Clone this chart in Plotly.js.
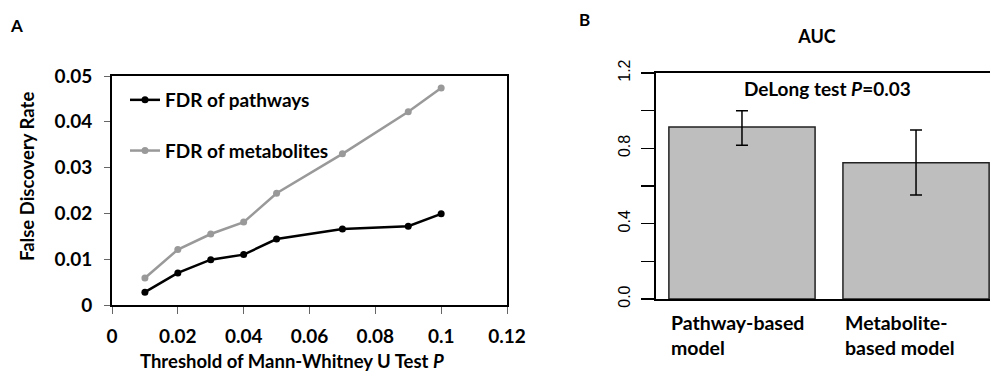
<!DOCTYPE html>
<html>
<head>
<meta charset="utf-8">
<script src="https://cdn.plot.ly/plotly-3.0.1.min.js"></script>
<style>html,body{margin:0;padding:0;background:#fff;}#chart{width:990px;height:373px;}</style>
</head>
<body>
<div id="chart"></div>
<script>
// ---- Data: panel A ----
const thresholds = [0.01, 0.02, 0.03, 0.04, 0.05, 0.07, 0.09, 0.10];
const fdrPathways = [0.0028, 0.0070, 0.0099, 0.0110, 0.0144, 0.0166, 0.0172, 0.0199];
const fdrMetabolites = [0.0059, 0.0121, 0.0155, 0.0181, 0.0244, 0.0330, 0.0422, 0.0474];
const seriesNames = ["FDR of pathways", "FDR of metabolites"];

// ---- Data: panel B ----
const models = ["Pathway-based<br>model", "Metabolite-<br>based model"];
const aucValues = [0.913, 0.724];
const ciUpper = [1.00, 0.897];
const ciLower = [0.816, 0.552];

const BOLD = "Lato, 'Open Sans', sans-serif";
const barWidth = 0.84;

const traces = [
  {
    x: thresholds, y: fdrPathways, name: "<b>" + seriesNames[0] + "</b>", type: "scatter", mode: "lines+markers",
    line: {color: "#000000", width: 2.5}, marker: {color: "#000000", size: 7},
    xaxis: "x", yaxis: "y", legendgroup: "g1"
  },
  {
    x: thresholds, y: fdrMetabolites, name: "<b>" + seriesNames[1] + "</b>", type: "scatter", mode: "lines+markers",
    line: {color: "#999999", width: 2.5}, marker: {color: "#999999", size: 7},
    xaxis: "x", yaxis: "y", legendgroup: "g2"
  },
  {
    x: models, y: aucValues, type: "bar", width: barWidth, showlegend: false,
    marker: {color: "#bebebe", line: {color: "#222222", width: 1.5}},
    error_y: {
      type: "data", symmetric: false,
      array: aucValues.map((v, i) => ciUpper[i] - v),
      arrayminus: aucValues.map((v, i) => v - ciLower[i]),
      color: "#000000", thickness: 1.5, width: 6
    },
    xaxis: "x2", yaxis: "y2", hoverinfo: "y"
  }
];

const annotations = [
  {text: "<b>A</b>", xref: "paper", yref: "paper", x: 16/990, y: 1 - 25/373, xanchor: "center", yanchor: "middle",
   showarrow: false, font: {family: BOLD, size: 17, color: "#000"}},
  {text: "<b>B</b>", xref: "paper", yref: "paper", x: 584/990, y: 1 - 19/373, xanchor: "center", yanchor: "middle",
   showarrow: false, font: {family: BOLD, size: 17, color: "#000"}},
  {text: "<b>False Discovery Rate</b>", xref: "paper", yref: "paper", x: 27/990, y: 1 - 177/373,
   xanchor: "center", yanchor: "middle",
   textangle: -90, showarrow: false, font: {family: BOLD, size: 18.5, color: "#000"}},
  {text: "<b>Threshold of Mann-Whitney U Test <i>P</i></b>", xref: "paper", yref: "paper",
   x: 292/990, y: 0, xanchor: "center", yanchor: "bottom", borderpad: 0,
   showarrow: false, font: {family: BOLD, size: 18.5, color: "#000"}},
  {text: "<b>DeLong test <i>P</i>=0.03</b>", xref: "paper", yref: "paper",
   x: 827/990, y: 1 - 89/373, xanchor: "center", yanchor: "middle",
   showarrow: false, font: {family: BOLD, size: 19, color: "#000"}}
];
models.forEach((m, i) => {
  annotations.push({
    text: "<b>" + m + "</b>", xref: "x2", yref: "paper", x: i - barWidth / 2, y: 1 - 335/373,
    xanchor: "left", yanchor: "middle", align: "left", showarrow: false,
    font: {family: BOLD, size: 19.5, color: "#000"}
  });
});

const layout = {
  width: 990, height: 373,
  margin: {l: 0, r: 0, t: 0, b: 0},
  paper_bgcolor: "#ffffff", plot_bgcolor: "#ffffff",
  font: {family: BOLD, color: "#000"},
  title: {text: "<b>AUC</b>", x: 817/990, xanchor: "center", y: 1 - 37/373, yanchor: "middle",
          font: {family: BOLD, size: 18, color: "#000"}},
  showlegend: true,
  legend: {
    x: 125/990, y: 1 - 81/373, xanchor: "left", yanchor: "top",
    bgcolor: "rgba(0,0,0,0)", traceorder: "grouped", tracegroupgap: 23,
    font: {family: BOLD, size: 19, color: "#000"}, itemwidth: 30
  },
  xaxis: {
    domain: [112/990, 507/990], range: [0, 0.12], dtick: 0.02, tick0: 0,
    showgrid: false, zeroline: false, showline: true, mirror: true, linecolor: "#000", linewidth: 2,
    ticks: "outside", ticklen: 7, tickcolor: "#666", tickwidth: 1, ticklabelstandoff: 6,
    tickfont: {family: BOLD, size: 19, color: "#000"}, tickprefix: "<b>", ticksuffix: "</b>",
    anchor: "y"
  },
  yaxis: {
    domain: [68/373, 297/373], range: [0, 0.05], dtick: 0.01, tick0: 0,
    showgrid: false, zeroline: false, showline: true, mirror: true, linecolor: "#000", linewidth: 2,
    ticks: "outside", ticklen: 6, tickcolor: "#666", tickwidth: 1, ticklabelstandoff: 8,
    tickfont: {family: BOLD, size: 19, color: "#000"}, tickprefix: "<b>", ticksuffix: "</b>",
    anchor: "x"
  },
  xaxis2: {
    domain: [656/990, 1], range: [-0.494, 1.425], type: "category",
    showgrid: false, zeroline: false, showline: true, mirror: true, linecolor: "#000", linewidth: 2,
    ticks: "", showticklabels: false, anchor: "y2"
  },
  yaxis2: {
    domain: [74/373, 300/373], range: [0, 1.2], dtick: 0.4, tick0: 0, tickformat: ".1f",
    showgrid: false, zeroline: false, showline: true, mirror: false, linecolor: "#000", linewidth: 2,
    ticks: "outside", ticklen: 13, tickcolor: "#000", tickwidth: 1.5, tickangle: -90, ticklabelstandoff: 5,
    minor: {dtick: 0.2, ticks: "outside", ticklen: 13, tickcolor: "#000", tickwidth: 1.5, showgrid: false},
    tickfont: {family: "'Liberation Sans', Arial, sans-serif", size: 16, color: "#000"},
    anchor: "x2"
  },
  annotations: annotations
};

Plotly.newPlot("chart", traces, layout, {displayModeBar: false, staticPlot: true});
</script>
</body>
</html>
